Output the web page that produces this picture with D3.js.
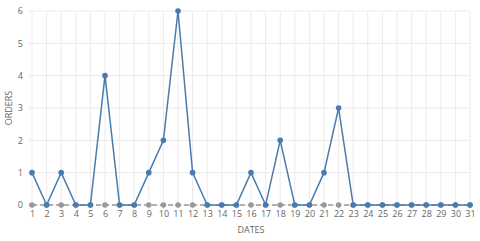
<!DOCTYPE html>
<html>
<head>
<meta charset="utf-8">
<script src="https://cdn.jsdelivr.net/npm/d3@7"></script>
<style>
  body { margin: 0; background: #fff; }
  text { font-family: "Open Sans", Arial, sans-serif; }
</style>
</head>
<body>
<svg id="chart" width="480" height="241"></svg>
<script>
const dates = d3.range(1, 32);
const orders = [1, 0, 1, 0, 0, 4, 0, 0, 1, 2, 6, 1, 0, 0, 0, 1, 0, 2, 0, 0, 1, 3, 0, 0, 0, 0, 0, 0, 0, 0, 0];
const baseline = dates.map(() => 0);
const yTicks = [0, 1, 2, 3, 4, 5, 6];

const margin = { top: 11, right: 10, bottom: 36, left: 32 };
const width = 480 - margin.left - margin.right;
const height = 241 - margin.top - margin.bottom;

const svg = d3.select("#chart");
const g = svg.append("g").attr("transform", `translate(${margin.left},${margin.top})`);

const x = d3.scaleLinear().domain([1, 31]).range([0, width]);
const y = d3.scaleLinear().domain([0, 6]).range([height, 0]);

// grid
g.append("g")
  .selectAll("line")
  .data(dates)
  .join("line")
  .attr("x1", d => x(d)).attr("x2", d => x(d))
  .attr("y1", 0).attr("y2", height + 4)
  .attr("stroke", "#ebebeb");
g.append("g")
  .selectAll("line")
  .data(yTicks)
  .join("line")
  .attr("x1", -4).attr("x2", width)
  .attr("y1", d => y(d)).attr("y2", d => y(d))
  .attr("stroke", "#ebebeb");

// axes (labels only)
const xAxis = g.append("g")
  .attr("transform", `translate(0,${height})`)
  .call(d3.axisBottom(x).tickValues(dates).tickFormat(d3.format("d")).tickSize(0).tickPadding(6));
xAxis.select(".domain").remove();
xAxis.selectAll("text").attr("fill", "#666").attr("font-size", 9);

const yAxis = g.append("g")
  .call(d3.axisLeft(y).tickValues(yTicks).tickFormat(d3.format("d")).tickSize(0).tickPadding(9));
yAxis.select(".domain").remove();
yAxis.selectAll("text").attr("fill", "#666").attr("font-size", 9);

// axis titles
svg.append("text")
  .attr("x", margin.left + width / 2)
  .attr("y", 233)
  .attr("text-anchor", "middle")
  .attr("font-size", 9)
  .attr("fill", "#666")
  .text("DATES");
svg.append("text")
  .attr("transform", `translate(12,${margin.top + height / 2}) rotate(-90)`)
  .attr("text-anchor", "middle")
  .attr("font-size", 9)
  .attr("fill", "#666")
  .text("ORDERS");

const line = d3.line().x((d, i) => x(dates[i])).y(d => y(d));

// grey baseline series
g.append("path")
  .datum(baseline)
  .attr("fill", "none")
  .attr("stroke", "#999")
  .attr("stroke-width", 1.5)
  .attr("stroke-dasharray", "5,3")
  .attr("d", line);
g.append("g")
  .selectAll("circle")
  .data(baseline)
  .join("circle")
  .attr("cx", (d, i) => x(dates[i]))
  .attr("cy", d => y(d))
  .attr("r", 2.8)
  .attr("fill", "#999");

// orders series
const blue = "#4a7bad";
g.append("path")
  .datum(orders)
  .attr("fill", "none")
  .attr("stroke", blue)
  .attr("stroke-width", 1.5)
  .attr("d", line);
g.append("g")
  .selectAll("circle")
  .data(orders)
  .join("circle")
  .attr("cx", (d, i) => x(dates[i]))
  .attr("cy", d => y(d))
  .attr("r", 2.8)
  .attr("fill", blue);
</script>
</body>
</html>
